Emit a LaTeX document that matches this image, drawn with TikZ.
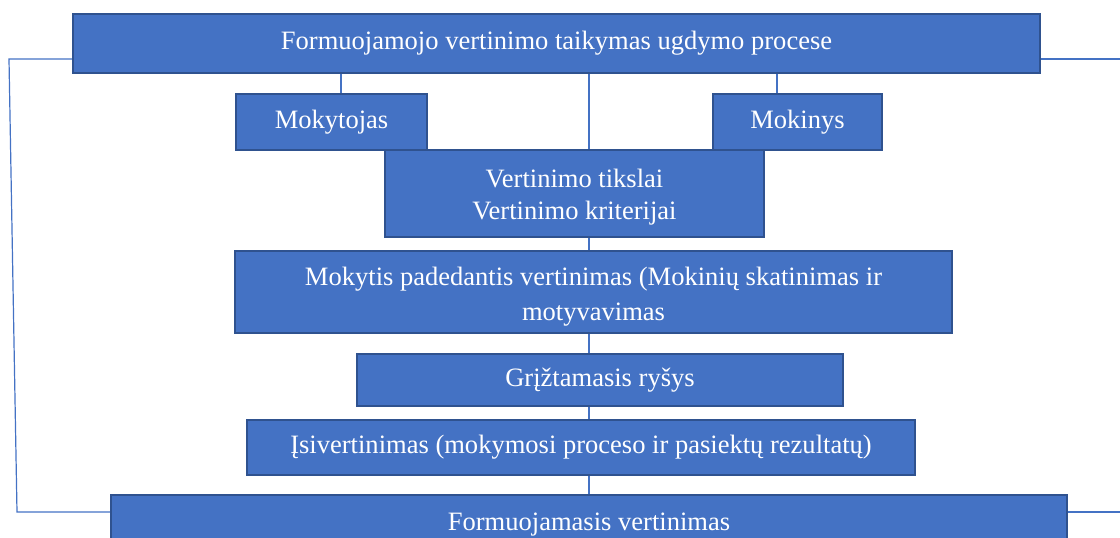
\documentclass[tikz,border=0pt]{standalone}
\usepackage{fontspec}
\setmainfont{Liberation Serif}
\definecolor{boxfill}{HTML}{4472C4}
\definecolor{boxline}{HTML}{2F528F}
\definecolor{conn}{HTML}{4472C4}
\tikzset{
  box/.style={draw=boxline, fill=boxfill, line width=1.7pt, text=white,
    font=\fontsize{19.9}{24.75}\selectfont, align=center, inner sep=0pt,
    text height=13.5pt, text depth=4.2pt},
  lbl/.style={text=white, align=center, inner sep=0pt},
  link/.style={draw=conn, line width=0.9pt}
}
\begin{document}
\begin{tikzpicture}[x=0.75pt,y=-0.75pt]
\useasboundingbox (0,0) rectangle (1120,538);
\clip (0,0) rectangle (1120,538);
\node[box, minimum width=725.25pt, minimum height=44.25pt] (top) at (556.5,43.5) {Formuojamojo vertinimo taikymas ugdymo procese};
\node[box, minimum width=143.25pt, minimum height=42pt] (mkt) at (331.5,122) {Mokytojas};
\node[box, minimum width=126.75pt, minimum height=42pt] (mkn) at (797.5,122) {Mokinys};
\node[box, minimum width=284.25pt, minimum height=65.25pt,
  label={[lbl, font=\fontsize{19.9}{24}\selectfont, yshift=-2.4pt]center:Vertinimo tikslai\\Vertinimo kriterijai}] (vert) at (574.5,193.5) {};
\node[box, minimum width=537.75pt, minimum height=61.5pt,
  label={[lbl, font=\fontsize{19.9}{26.25}\selectfont, yshift=-3.6pt]center:Mokytis padedantis vertinimas (Mokinių skatinimas ir\\motyvavimas}] (mok) at (593.5,292) {};
\node[box, minimum width=364.5pt, minimum height=39pt] (grz) at (600,380) {Grįžtamasis ryšys};
\node[box, minimum width=501pt, minimum height=41.25pt] (isv) at (581,447.5) {Įsivertinimas (mokymosi proceso ir pasiektų rezultatų)};
\node[box, minimum width=717pt, minimum height=44.25pt] (bot) at (589,524.5) {Formuojamasis vertinimas};
% connectors
\draw[link] ([xshift=7.1pt]mkt.north) -- ([xshift=7.1pt]mkt.north |- top.south);
\draw[link] ([xshift=-15.4pt]mkn.north) -- ([xshift=-15.4pt]mkn.north |- top.south);
\draw[link] (top.south -| bot.north) -- (vert.north -| bot.north);
\draw[link] (vert.south -| bot.north) -- (mok.north -| bot.north);
\draw[link] (mok.south -| bot.north) -- (grz.north -| bot.north);
\draw[link] (grz.south -| bot.north) -- (isv.north -| bot.north);
\draw[link] (isv.south -| bot.north) -- (bot.north);
\coordinate (lt) at (9,59);
\coordinate (lb) at (17,512);
\coordinate (rt) at (1120,59);
\coordinate (rb) at (1120,512);
\draw[link] (top.west |- lt) -- (lt) -- (lb) -- (bot.west |- lb);
\draw[link] (top.east |- rt) -- (rt);
\draw[link] (bot.east |- rb) -- (rb);
\end{tikzpicture}
\end{document}
